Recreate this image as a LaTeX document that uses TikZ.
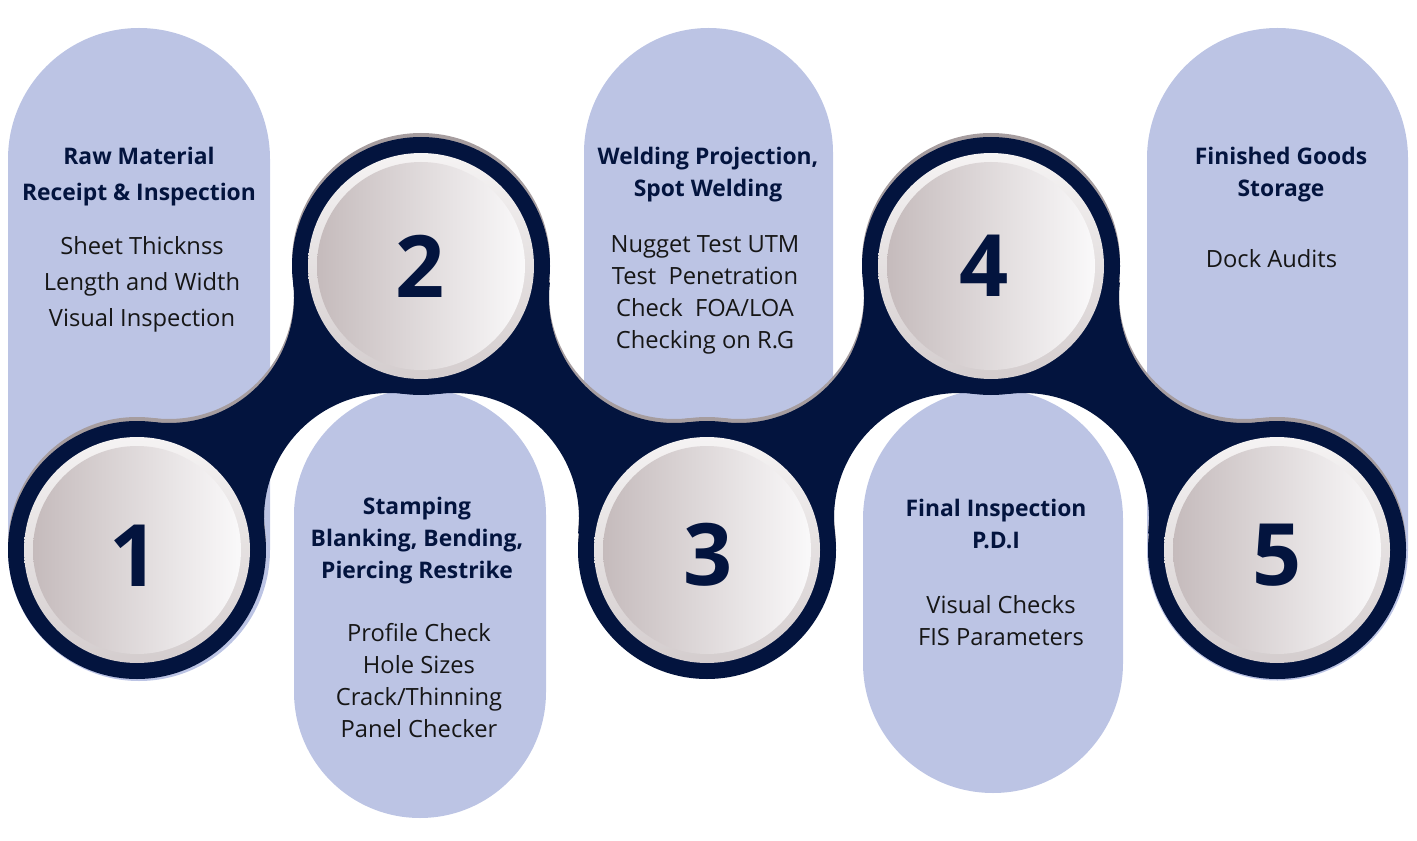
\documentclass[tikz,border=0pt]{standalone}
\usepackage{fontspec}
\setmainfont{Open Sans}
\usetikzlibrary{calc}
\definecolor{navy}{RGB}{3,20,62}
\definecolor{lavender}{RGB}{188,196,228}
\definecolor{shadowgrey}{RGB}{166,157,159}
\definecolor{bodytext}{RGB}{22,22,22}
\definecolor{disclight}{RGB}{250,249,250}
\definecolor{discdark}{RGB}{197,187,188}
\definecolor{rimlight}{RGB}{245,243,243}
\definecolor{rimdark}{RGB}{212,205,206}
\tikzstyle{heading} = [align=center, text=navy, inner sep=0pt, font=\fontsize{13}{18.2}\selectfont\bfseries]
\tikzstyle{checks} = [align=center, text=bodytext, inner sep=0pt, font=\fontsize{13.5}{18.2}\selectfont]
\tikzstyle{digit} = [text=navy, inner sep=0pt, font=\fontsize{49}{49}\selectfont\bfseries]
% stadium: centre x, top y, bottom y, radius
\newcommand{\pill}[4]{\fill[lavender] (#1+#4,-#2-#4) arc[start angle=0, end angle=180, radius=#4] -- (#1-#4,-#3+#4) arc[start angle=180, end angle=360, radius=#4] -- cycle;}
% neck between two rings, drawn round its midpoint
\newcommand{\bridge}{(-125.74,-14) arc[start angle=-97.24, end angle=7.24, radius=125] -- (125.74,14) arc[start angle=82.76, end angle=187.24, radius=125] -- cycle}
\newcommand{\chain}[1]{%
  \foreach \cx/\cy in {137/550, 421/266, 707/550, 991/266, 1277/550}
    \fill[#1] (\cx,-\cy) circle[radius=129];
  \fill[#1, shift={(279,-408)}] \bridge;
  \fill[#1, shift={(564,-408)}, yscale=-1] \bridge;
  \fill[#1, shift={(849,-408)}] \bridge;
  \fill[#1, shift={(1134,-408)}, yscale=-1] \bridge;}

\begin{document}
\begin{tikzpicture}[x=0.02cm, y=0.02cm]
	\useasboundingbox (0,0) rectangle (1417,-841);
	% pills
	\pill{139}{28}{681}{131}
	\pill{420}{389}{818}{126}
	\pill{708.5}{28}{674.5}{124.5}
	\pill{993}{389}{793}{130}
	\pill{1277.5}{28}{680.5}{130.5}
	% chain with its shadow
	\begin{scope}[shift={(0,4)}]
		\chain{shadowgrey}
	\end{scope}
	\chain{navy}
	% step discs
	\foreach \n/\cx/\cy/\nx/\ny in {1/137/550/134.5/556, 2/421/266/420.5/266, 3/707/550/708.5/555, 4/991/266/984/266, 5/1277/550/1277/555} {
		\shade[top color=rimlight, bottom color=rimdark] (\cx,-\cy) circle[radius=113];
		\shade[left color=discdark, right color=disclight] (\cx,-\cy) circle[radius=104];
		\node[digit] (step\n) at (\nx,-\ny) {\n};
	}
	% texts
	\node[heading, font=\fontsize{13}{20.5}\selectfont\bfseries] (rawhead) at (139,-177) {Raw Material\\Receipt \& Inspection};
	\node[checks, font=\fontsize{13.5}{20.5}\selectfont] (rawchecks) at (142,-284) {Sheet Thicknss\\Length and Width\\Visual Inspection};
	\node[heading] (stamphead) at (417,-541) {Stamping\\Blanking, Bending,\\Piercing Restrike};
	\node[checks] (stampchecks) at (419,-681) {Profile Check\\Hole Sizes\\Crack/Thinning\\Panel Checker};
	\node[heading] (weldhead) at (708,-175) {Welding Projection,\\Spot Welding};
	\node[checks] (weldchecks) at (705,-295) {Nugget Test UTM\\Test~~Penetration\\Check~~FOA/LOA\\Checking on R.G};
	\node[heading] (finalhead) at (996,-524) {Final Inspection\\P.D.I};
	\node[checks] (finalchecks) at (1001,-621) {Visual Checks\\FIS Parameters};
	\node[heading] (storehead) at (1281,-175) {Finished Goods\\Storage};
	\node[checks] (storechecks) at (1271.5,-259) {Dock Audits};
\end{tikzpicture}
\end{document}
